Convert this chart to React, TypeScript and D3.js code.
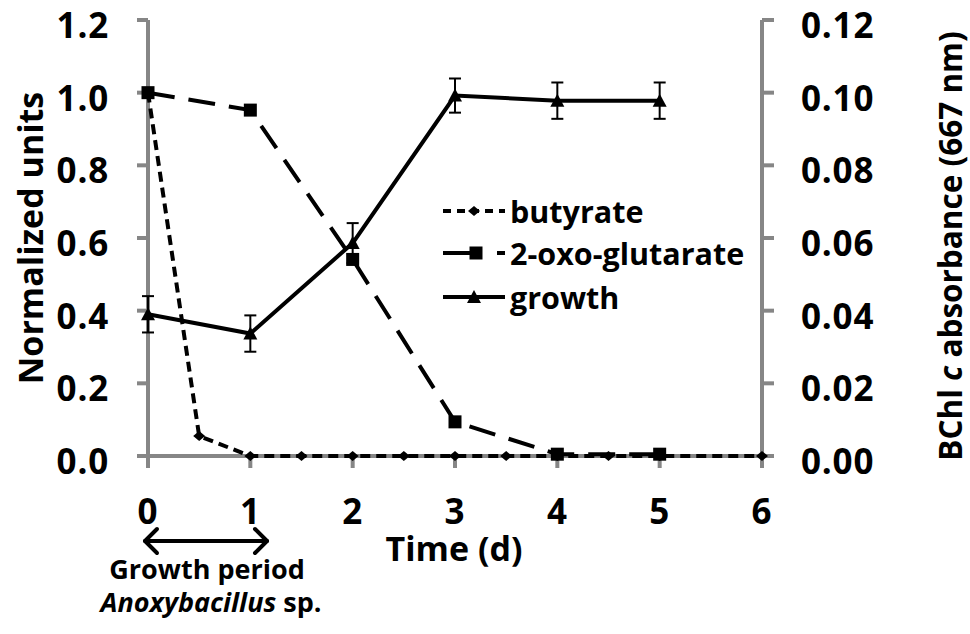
import React from "react";
import * as d3 from "d3";

// ---- data ----
const butyrateTimes = [0, 0.5, 1, 1.5, 2, 2.5, 3, 3.5, 4, 4.5, 5, 6];
const butyrateValues = [1.0, 0.055, 0, 0, 0, 0, 0, 0, 0, 0, 0, 0];
const dayTimes = [0, 1, 2, 3, 4, 5];
const oxoValues = [1.0, 0.952, 0.541, 0.094, 0.005, 0.005];
const growthValues = [0.039, 0.0337, 0.0586, 0.0992, 0.0978, 0.0978];
const growthErrors = [0.005, 0.005, 0.0055, 0.0047, 0.005, 0.005];
const xTicks = [0, 1, 2, 3, 4, 5, 6];
const leftTicks = [0, 0.2, 0.4, 0.6, 0.8, 1.0, 1.2];
const rightTicks = [0, 0.02, 0.04, 0.06, 0.08, 0.1, 0.12];
const seriesNames = ["butyrate", "2-oxo-glutarate", "growth"];

const FONT = "'Open Sans', Lato, sans-serif";
const AXIS = "#868686";

export default function App() {
  const x = d3.scaleLinear().domain([0, 6]).range([148, 762]);
  const yL = d3.scaleLinear().domain([0, 1.2]).range([456, 20]);
  const yR = d3.scaleLinear().domain([0, 0.12]).range([456, 20]);

  const lineL = d3
    .line<[number, number]>()
    .x((d) => x(d[0]))
    .y((d) => yL(d[1]));
  const lineR = d3
    .line<[number, number]>()
    .x((d) => x(d[0]))
    .y((d) => yR(d[1]));

  const butPts: [number, number][] = butyrateTimes.map((t, i) => [t, butyrateValues[i]]);
  const oxoPts: [number, number][] = dayTimes.map((t, i) => [t, oxoValues[i]]);
  const grPts: [number, number][] = dayTimes.map((t, i) => [t, growthValues[i]]);

  const diamond = (cx: number, cy: number, key: any) => (
    <path key={key} d={`M${cx},${cy - 5}L${cx + 6},${cy}L${cx},${cy + 5}L${cx - 6},${cy}Z`} fill="#000" />
  );
  const square = (cx: number, cy: number, key: any) => (
    <rect key={key} x={cx - 6.5} y={cy - 6.5} width={13} height={13} fill="#000" />
  );
  const triangle = (cx: number, cy: number, key: any) => (
    <path key={key} d={`M${cx},${cy - 7}L${cx + 7},${cy + 6}L${cx - 7},${cy + 6}Z`} fill="#000" />
  );

  const legX0 = 443;
  const legX1 = 505;
  const legMid = 476;
  const legRows = [211, 253, 297];

  return (
    <svg
      width={970}
      height={634}
      style={{ position: "absolute", left: 0, top: 0, background: "#fff" }}
      fontFamily={FONT}
      fontWeight="bold"
    >
      <rect width={970} height={634} fill="#fff" />
      {/* axes */}
      <g stroke={AXIS} strokeWidth={4}>
        <line x1={x(0)} x2={x(0)} y1={yL(1.2)} y2={yL(0) + 2} />
        <line x1={x(6)} x2={x(6)} y1={yR(0.12)} y2={yR(0) + 2} />
        <line x1={x(0) - 2} x2={x(6) + 2} y1={yL(0)} y2={yL(0)} />
        {leftTicks.map((t) => (
          <line key={"lt" + t} x1={x(0) - 11} x2={x(0)} y1={yL(t)} y2={yL(t)} />
        ))}
        {rightTicks.map((t) => (
          <line key={"rt" + t} x1={x(6)} x2={x(6) + 12} y1={yR(t)} y2={yR(t)} />
        ))}
        {xTicks.map((t) => (
          <line key={"xt" + t} x1={x(t)} x2={x(t)} y1={yL(0)} y2={yL(0) + 12} />
        ))}
      </g>
      {/* tick labels */}
      <g fontSize={35} fill="#000" letterSpacing={0.8}>
        {leftTicks.map((t) => (
          <text key={"ll" + t} x={109} y={yL(t) + 18} textAnchor="end">
            {t.toFixed(1)}
          </text>
        ))}
        {rightTicks.map((t) => (
          <text key={"rl" + t} x={801} y={yR(t) + 18} textAnchor="start">
            {t.toFixed(2)}
          </text>
        ))}
        {xTicks.map((t) => (
          <text key={"xl" + t} x={x(t)} y={524} textAnchor="middle">
            {t}
          </text>
        ))}
      </g>
      {/* axis titles */}
      <text transform="translate(43,238) rotate(-90)" textAnchor="middle" fontSize={34}>
        Normalized units
      </text>
      <text transform="translate(962,246) rotate(-90)" textAnchor="middle" fontSize={31.5}>
        BChl <tspan fontStyle="italic">c</tspan> absorbance (667 nm)
      </text>
      <text x={454} y={561} textAnchor="middle" fontSize={34}>
        Time (d)
      </text>
      {/* growth period arrow */}
      <g stroke="#000" strokeWidth={4} fill="none" strokeLinecap="round" strokeLinejoin="round">
        <line x1={145} x2={267} y1={541} y2={541} />
        <path d="M157,529L145,541L157,553" />
        <path d="M255,529L267,541L255,553" />
      </g>
      <text x={207} y={579} textAnchor="middle" fontSize={27}>
        Growth period
      </text>
      <text x={211} y={612} textAnchor="middle" fontSize={27}>
        <tspan fontStyle="italic">Anoxybacillus</tspan> sp.
      </text>

      {/* series: butyrate */}
      <path d={lineL(butPts) || ""} fill="none" stroke="#000" strokeWidth={4} strokeDasharray="10,6" />
      {butPts.map((p, i) => diamond(x(p[0]), yL(p[1]), "bd" + i))}
      {/* series: 2-oxo-glutarate */}
      <path d={lineL(oxoPts) || ""} fill="none" stroke="#000" strokeWidth={4} strokeDasharray="27,14" />
      {oxoPts.map((p, i) => square(x(p[0]), yL(p[1]), "os" + i))}
      {/* series: growth */}
      <path d={lineR(grPts) || ""} fill="none" stroke="#000" strokeWidth={4} />
      <g stroke="#000" strokeWidth={2}>
        {grPts.map((p, i) => {
          const cx = x(p[0]);
          const y0 = yR(p[1] - growthErrors[i]);
          const y1 = yR(p[1] + growthErrors[i]);
          return (
            <g key={"eb" + i}>
              <line x1={cx} x2={cx} y1={y0} y2={y1} />
              <line x1={cx - 6} x2={cx + 6} y1={y0} y2={y0} />
              <line x1={cx - 6} x2={cx + 6} y1={y1} y2={y1} />
            </g>
          );
        })}
      </g>
      {grPts.map((p, i) => triangle(x(p[0]), yR(p[1]), "gt" + i))}

      {/* legend */}
      <g>
        <line x1={legX0} x2={legX1} y1={legRows[0]} y2={legRows[0]} stroke="#000" strokeWidth={4} strokeDasharray="8,6" />
        {diamond(legMid - 2, legRows[0], "ld")}
        <line x1={legX0} x2={legX1} y1={legRows[1]} y2={legRows[1]} stroke="#000" strokeWidth={4} strokeDasharray="35,19" />
        {square(legMid, legRows[1], "ls")}
        <line x1={legX0} x2={legX1} y1={legRows[2]} y2={legRows[2]} stroke="#000" strokeWidth={4} />
        {triangle(legMid - 2, legRows[2], "lt")}
        {seriesNames.map((n, i) => (
          <text key={n} x={510} y={legRows[i] + 12} fontSize={30.5}>
            {n}
          </text>
        ))}
      </g>
    </svg>
  );
}
